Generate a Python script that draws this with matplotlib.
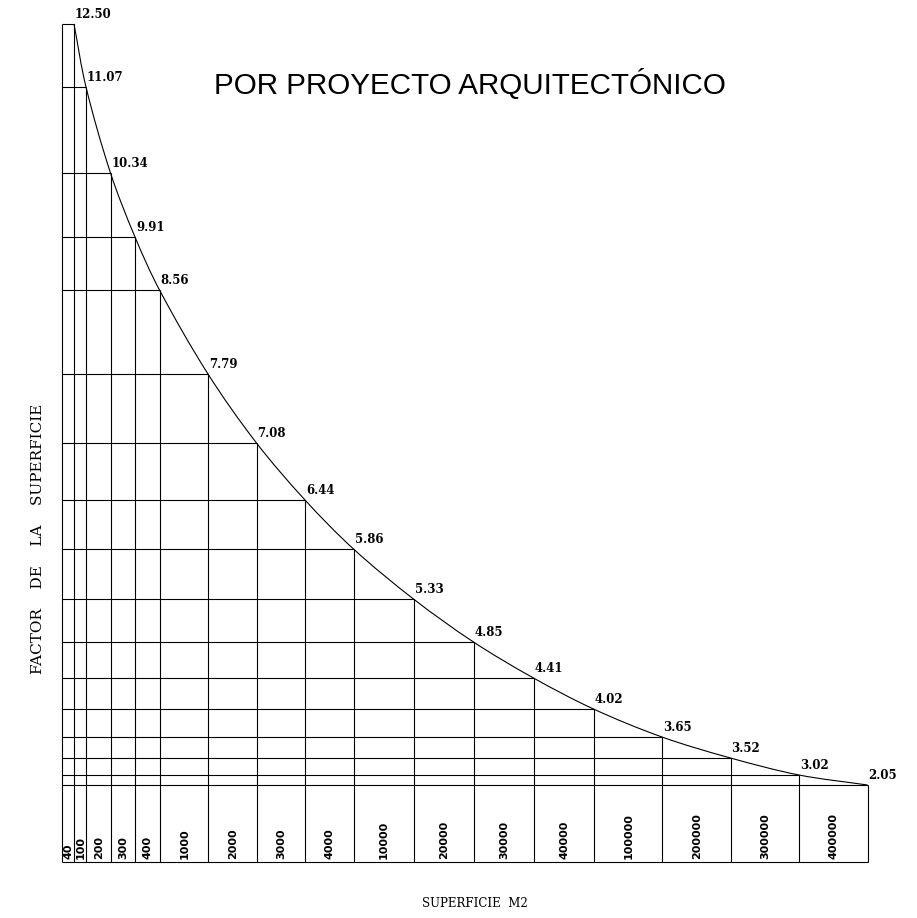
import numpy as np
import matplotlib
matplotlib.use("Agg")
import matplotlib.pyplot as plt
from matplotlib.path import Path
from matplotlib.patches import PathPatch
from matplotlib.transforms import blended_transform_factory

# Surface ranges (m2) and their surface factor
areas = ["40", "100", "200", "300", "400", "1000", "2000", "3000", "4000",
         "10000", "20000", "30000", "40000", "100000", "200000", "300000", "400000"]
factors = [12.50, 11.07, 10.34, 9.91, 8.56, 7.79, 7.08, 6.44, 5.86,
           5.33, 4.85, 4.41, 4.02, 3.65, 3.52, 3.02, 2.05]

# Nomogram layout: width of each column and the graduation height of each factor
col_widths = [12, 12, 24.5, 24.5, 24.5, 48.5, 48.5, 48.5, 48.5,
              60, 60, 60, 60, 68.5, 68.5, 68.5, 68.5]
grad_heights = [838, 775, 689, 625, 572, 488, 419, 362, 313,
                263, 220, 184, 153, 125, 104, 87, 77]

W, H = 917, 918
fig = plt.figure(figsize=(W / 100, H / 100), dpi=100)
fig.patch.set_facecolor("white")

total_w = float(np.sum(col_widths))
top_h = float(max(grad_heights))
ax = fig.add_axes([62 / W, 56 / H, total_w / W, top_h / H])
ax.set_axis_off()

# Graduated (non-linear) factor scale
scale_vals = np.array([0.0] + factors[::-1])
scale_pos = np.array([0.0] + grad_heights[::-1], dtype=float)


def fwd(v):
    return np.interp(v, scale_vals, scale_pos)


def inv(p):
    return np.interp(p, scale_pos, scale_vals)


ax.set_yscale("function", functions=(fwd, inv))
ax.set_xlim(0, total_w)
ax.set_ylim(0, max(factors))

right = np.cumsum(col_widths)
left = right - np.array(col_widths)
lw = 0.8
kw = dict(colors="black", linewidth=lw, clip_on=False)

# staircase grid
ax.vlines(0, 0, max(factors), **kw)
ax.hlines(0, 0, total_w, **kw)
ax.vlines(right, 0, factors, **kw)
ax.hlines(factors, 0, right, **kw)

# smooth curve through the column corners (chord-length Catmull-Rom as Bezier)
px = right.astype(float)
py = fwd(np.array(factors)) / top_h * total_w  # same units as x for chord lengths
P = np.column_stack([px, py])
n = len(P)
d = np.linalg.norm(np.diff(P, axis=0), axis=1)
t = np.concatenate([[0], np.cumsum(d)])
tang = np.zeros_like(P)
for i in range(n):
    a = max(i - 1, 0)
    b = min(i + 1, n - 1)
    tang[i] = (P[b] - P[a]) / (t[b] - t[a])
verts = [tuple(P[0])]
codes = [Path.MOVETO]
for i in range(n - 1):
    h = t[i + 1] - t[i]
    c1 = P[i] + tang[i] * h / 3
    c2 = P[i + 1] - tang[i + 1] * h / 3
    verts += [tuple(c1), tuple(c2), tuple(P[i + 1])]
    codes += [Path.CURVE4] * 3
verts = [(vx, vy / total_w) for vx, vy in verts]
trans = blended_transform_factory(ax.transData, ax.transAxes)
ax.add_patch(PathPatch(Path(verts, codes), facecolor="none", edgecolor="black",
                       linewidth=lw, transform=trans, clip_on=False))

# factor labels
for xr, v in zip(right, factors):
    ax.annotate(f"{v:.2f}", xy=(xr, v), xytext=(1, 6), textcoords="offset pixels",
                ha="left", va="baseline", fontsize=8.5, fontweight="bold",
                family="DejaVu Serif", annotation_clip=False)

# surface labels inside the bottom band
for xl, w, lab in zip(left, col_widths, areas):
    ax.annotate(lab, xy=(xl + w / 2, 0), xytext=(0.5, 3), textcoords="offset pixels",
                rotation=90, ha="center", va="bottom", fontsize=8,
                fontweight="bold", family="DejaVu Sans", annotation_clip=False)

fig.text(470 / W, 1 - 94 / H, "POR PROYECTO ARQUITECTÓNICO", ha="center",
         va="baseline", fontsize=21.3, family="Liberation Sans")
fig.text(42 / W, 1 - 539 / H, "FACTOR    DE    LA    SUPERFICIE", rotation=90,
         rotation_mode="anchor", ha="center", va="baseline", fontsize=11,
         family="DejaVu Serif")
fig.text(475 / W, 1 - 907 / H, "SUPERFICIE  M2", ha="center", va="baseline",
         fontsize=8.5, family="DejaVu Serif")

fig.savefig("out.png", dpi=100, facecolor="white")
